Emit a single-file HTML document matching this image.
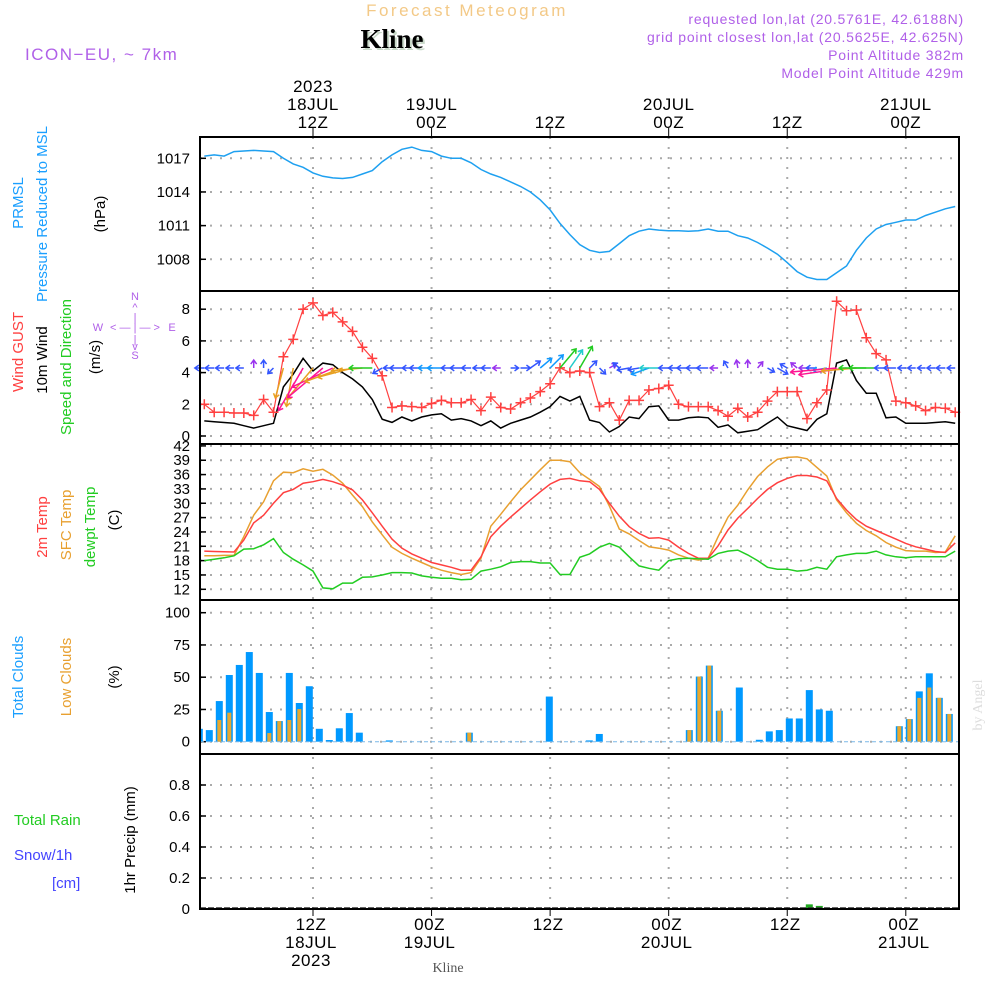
<!DOCTYPE html>
<html><head><meta charset="utf-8">
<style>
body{margin:0;background:#fff;}
svg{display:block;font-family:"Liberation Sans",sans-serif;}
</style></head>
<body>
<svg id="chart" width="1000" height="1000" viewBox="0 0 1000 1000" xmlns="http://www.w3.org/2000/svg">
<defs><clipPath id="cloudClip"><rect x="201" y="600" width="757" height="154"/></clipPath></defs>
<rect x="0" y="0" width="1000" height="1000" fill="#fff"/>
<text x="467" y="16" text-anchor="middle" font-size="17" letter-spacing="2.5" fill="#f3c987">Forecast Meteogram</text>
<text x="394" y="50" text-anchor="middle" font-size="27" font-weight="bold" font-family="Liberation Serif,serif" fill="#c8d8c8">Kline</text>
<text x="392" y="48" text-anchor="middle" font-size="27" font-weight="bold" font-family="Liberation Serif,serif" fill="#000">Kline</text>
<text x="25" y="60" font-size="17" letter-spacing="1.5" fill="#b060e8">ICON−EU, ~ 7km</text>
<g font-size="14" fill="#b060e8" text-anchor="end" letter-spacing="0.8">
<text x="964" y="24">requested lon,lat (20.5761E, 42.6188N)</text>
<text x="964" y="42">grid point closest lon,lat (20.5625E, 42.625N)</text>
<text x="964" y="60">Point Altitude 382m</text>
<text x="964" y="78">Model Point Altitude 429m</text>
</g>
<g font-size="15">
<text transform="translate(23,203) rotate(-90)" text-anchor="middle" fill="#1a9fff">PRMSL</text>
<text transform="translate(47,214) rotate(-90)" text-anchor="middle" fill="#1a9fff">Pressure Reduced to MSL</text>
<text transform="translate(105,214) rotate(-90)" text-anchor="middle" fill="#000">(hPa)</text>
<text transform="translate(23,352) rotate(-90)" text-anchor="middle" fill="#ff4040">Wind GUST</text>
<text transform="translate(47,360) rotate(-90)" text-anchor="middle" fill="#000">10m Wind</text>
<text transform="translate(71,367) rotate(-90)" text-anchor="middle" fill="#22cc22">Speed and Direction</text>
<text transform="translate(100,357) rotate(-90)" text-anchor="middle" fill="#000">(m/s)</text>
<text transform="translate(47,527) rotate(-90)" text-anchor="middle" fill="#ff4040">2m Temp</text>
<text transform="translate(71,525) rotate(-90)" text-anchor="middle" fill="#e8a030">SFC Temp</text>
<text transform="translate(95,527) rotate(-90)" text-anchor="middle" fill="#22cc22">dewpt Temp</text>
<text transform="translate(119,520) rotate(-90)" text-anchor="middle" fill="#000">(C)</text>
<text transform="translate(23,677) rotate(-90)" text-anchor="middle" fill="#1a9fff">Total Clouds</text>
<text transform="translate(71,677) rotate(-90)" text-anchor="middle" fill="#e8a030">Low Clouds</text>
<text transform="translate(119,677) rotate(-90)" text-anchor="middle" fill="#000">(%)</text>
<text x="14" y="825" fill="#22cc22">Total  Rain</text>
<text x="14" y="860" fill="#4444ff">Snow/1h</text>
<text x="52" y="888" fill="#4444ff">[cm]</text>
<text transform="translate(135,840) rotate(-90)" text-anchor="middle" fill="#000">1hr Precip (mm)</text>
</g>
<g font-size="11" fill="#b060e8" text-anchor="middle">
<text x="135" y="300">N</text><text x="135" y="311">^</text><text x="135" y="321">|</text>
<text x="98" y="331">W</text><text x="135" y="331">&lt; — | — &gt;</text><text x="172" y="331">E</text>
<text x="135" y="343">|</text><text x="135" y="350">v</text><text x="135" y="359">S</text>
</g>
<g id="plot"></g>
<text x="448" y="972" text-anchor="middle" font-size="14" font-family="Liberation Serif,serif" fill="#555">Kline</text>
<text transform="translate(982,705) rotate(-90)" text-anchor="middle" font-size="14" font-family="Liberation Serif,serif" fill="#ddd">by Angel</text>
</svg>
<script>
const hours = [];for(let h=1;h<=77;h++)hours.push(h);
const pressure=[1017.2,1017.3,1017.2,1017.6,1017.65,1017.7,1017.65,1017.6,1017.0,1016.5,1016.2,1015.7,1015.4,1015.25,1015.2,1015.3,1015.6,1015.9,1016.7,1017.3,1017.8,1018.0,1017.7,1017.6,1017.2,1017.0,1017.0,1016.6,1016.0,1015.6,1015.3,1014.9,1014.5,1014.0,1013.3,1012.4,1011.2,1010.2,1009.3,1008.8,1008.6,1008.7,1009.4,1010.1,1010.5,1010.7,1010.6,1010.55,1010.55,1010.5,1010.55,1010.7,1010.5,1010.5,1010.1,1009.9,1009.5,1009.0,1008.45,1007.7,1006.9,1006.4,1006.2,1006.2,1006.8,1007.4,1008.8,1009.9,1010.7,1011.1,1011.3,1011.5,1011.5,1011.9,1012.2,1012.5,1012.7];
const gust=[2.0,1.5,1.5,1.45,1.45,1.3,2.3,1.5,5.0,6.1,8.0,8.4,7.6,7.8,7.2,6.6,5.6,4.9,3.8,1.8,1.9,1.85,1.8,2.05,2.25,2.1,2.1,2.3,1.6,2.45,1.8,1.7,2.1,2.4,2.8,3.3,4.3,4.0,4.1,4.0,1.85,2.1,1.0,2.25,2.25,2.9,3.0,3.2,2.0,1.85,1.85,1.85,1.6,1.25,1.75,1.2,1.5,2.2,2.8,2.8,2.8,1.1,2.1,2.9,8.5,7.9,7.95,6.2,5.2,4.8,2.2,2.1,1.9,1.6,1.8,1.75,1.5];
const wind=[0.95,0.9,0.85,0.8,0.65,0.5,0.65,0.8,3.1,3.9,4.9,4.1,4.6,4.5,4.0,3.6,3.1,2.3,1.06,0.86,1.2,0.95,1.2,1.33,1.4,1.0,1.1,0.95,0.65,0.95,0.5,0.8,1.0,1.2,1.5,1.85,2.5,2.2,2.5,1.0,0.85,0.25,0.6,1.2,1.1,1.85,1.9,1.0,1.0,1.15,1.2,1.15,0.55,0.7,0.2,0.3,0.4,0.8,1.2,0.65,0.5,0.35,1.05,1.4,4.6,4.8,3.5,2.7,2.7,1.15,1.2,0.8,0.8,0.8,0.85,0.9,0.8];
const windDir=[180,180,180,180,180,270,270,135,105,100,120,130,140,155,160,165,175,180,150,180,180,180,180,180,180,180,180,180,180,180,180,0,0,-35,-40,-45,-50,-55,-60,-45,45,-30,-140,170,170,160,180,180,180,180,180,180,180,-120,-100,-90,-50,30,30,-150,-140,180,180,170,175,172,175,180,180,180,180,180,180,180,180,180,180];
const temp2m=[20.0,19.9,19.85,19.8,22.3,25.9,27.5,30.0,32.2,32.9,34.2,34.5,35.0,34.5,33.8,32.8,30.7,28.0,25.2,22.5,20.6,19.4,18.5,17.6,17.1,16.6,16.0,16.0,18.8,23.0,25.2,27.1,28.9,30.7,32.4,34.0,35.0,35.2,34.7,34.5,32.9,30.0,27.3,25.1,23.7,22.7,22.8,22.3,20.8,19.5,18.5,18.5,21.1,24.4,26.9,28.9,31.0,32.9,34.3,35.2,35.8,35.8,35.5,34.7,31.0,28.6,26.6,25.2,24.3,23.4,22.5,21.6,20.9,20.4,19.9,19.7,21.7];
const tempSfc=[19.0,19.0,19.1,19.1,23.0,27.5,30.3,34.7,36.5,36.4,37.2,36.7,37.1,35.9,34.2,31.7,29.3,26.1,23.4,20.8,19.5,18.5,17.6,16.7,16.0,15.5,15.1,15.5,18.5,25.2,27.7,30.3,32.8,34.9,37.0,39.0,39.0,38.7,36.4,35.0,33.5,29.4,24.6,23.6,22.2,20.9,20.6,20.2,19.2,18.5,18.1,18.5,23.0,27.1,29.6,32.8,35.6,37.6,39.2,39.6,39.7,39.3,37.5,35.7,30.7,28.0,25.8,24.3,23.2,21.8,20.8,20.1,20.0,20.0,19.7,19.8,23.2];
const dewpt=[18.0,18.3,18.6,19.0,20.4,20.5,21.3,22.6,19.7,18.3,17.1,15.8,12.3,12.1,13.3,13.3,14.5,14.6,15.0,15.5,15.5,15.4,14.8,14.5,14.3,14.3,14.0,14.1,15.8,16.2,16.7,17.6,17.8,17.8,17.5,17.5,15.1,15.1,18.7,19.4,20.8,21.6,20.8,18.8,16.9,16.4,16.0,18.0,18.4,18.5,18.4,18.3,19.5,20.0,20.2,19.2,18.0,16.6,16.2,16.2,15.8,16.0,16.6,16.2,18.8,19.2,19.5,19.5,20.0,19.2,18.8,18.6,18.8,18.8,18.8,18.8,20.0];
const totalClouds=[10,9,31.5,51.7,59.5,69.5,53.3,23,16,53.3,30,43,10,1.3,10.4,22.2,7,0,0,1,0,0,0,0,0,0,0,7,0,0,0,0,0,0,0,35,0,0,0,1,6,0,0,0,0,0,0,0,0,9,50.5,59,24,0,42,0,1.5,8,9,18,18,40,25,24,0,0,0,0,0,0,12,17.5,39,53,34,21.5];
const lowClouds=[0,0,16.8,22.5,0,0,0,6.7,16,16.8,25.3,0,0,0,0,0,0,0,0,0,0,0,0,0,0,0,0,7,0,0,0,0,0,0,0,0,0,0,0,0,0,0,0,0,0,0,0,0,0,9,50.5,59,24,0,0,0,0,0,0,0,0,0,0,0,0,0,0,0,0,0,12,17.5,34,42,34,21.5];
const precipHours=[62,63];
const precipVals=[0.03,0.02];
const pressTicks=[1008,1011,1014,1017];
const windTicks=[0,2,4,6,8];
const tempTicks=[12,15,18,21,24,27,30,33,36,39,42];
const cloudTicks=[0,25,50,75,100];
const precipTicks=[0,0.2,0.4,0.6,0.8];
const timeTickHours=[12,24,36,48,60,72];
const topLabels=[["2023","18JUL","12Z"],["","19JUL","00Z"],["","","12Z"],["","20JUL","00Z"],["","","12Z"],["","21JUL","00Z"]];
const bottomLabels=[["12Z","18JUL","2023"],["00Z","19JUL",""],["12Z","",""],["00Z","20JUL",""],["12Z","",""],["00Z","21JUL",""]];

const NS="http://www.w3.org/2000/svg";
const plot=document.getElementById('plot');
const L=200,R=959;
const P1={t:137,b:291},P2={t:291,b:444},P3={t:444,b:600},P4={t:600,b:754},P5={t:754,b:909};
function xH(h){return 313+(h-12)*9.88;}
function xBar(i){return 199.3+(i-1)*10;}
function yP(v){return 158.3-(v-1017)*11.22;}
function yW(v){return 436-v*15.85;}
function yT(v){return 589.3-(v-12)*4.78;}
function yC(v){return 741.7-v*1.29;}
function yR(v){return 909-v*155;}
function mk(tag,attrs,parent){const e=document.createElementNS(NS,tag);for(const k in attrs)e.setAttribute(k,attrs[k]);(parent||plot).appendChild(e);return e;}

function hAxis(ticks,fy,name,fmt){
  ticks.forEach(t=>{
    const y=fy(t);
    const g=mk('line',{x1:L,x2:R,y1:y,y2:y,stroke:'#aaa','stroke-width':2,'stroke-dasharray':'2,8'});
    
    
    const tk=mk('line',{x1:L,x2:L+6,y1:y,y2:y,stroke:'#000','stroke-width':1.5});
    
    
    const tx=mk('text',{x:L-10,y:y+5,'text-anchor':'end','font-size':15,fill:'#000'});
    tx.textContent=fmt?fmt(t):t;
    
    
  });
}
hAxis(pressTicks,yP,'pressure-axis');
hAxis(windTicks,yW,'wind-axis');
hAxis(tempTicks,yT,'temp-axis');
hAxis(cloudTicks,yC,'cloud-axis');
hAxis(precipTicks,yR,'precip-axis',t=>t===0?'0':t.toFixed(1));
timeTickHours.forEach((h,k)=>{
  const x=xH(h);
  const g=mk('line',{x1:x,x2:x,y1:P1.t,y2:P5.b,stroke:'#aaa','stroke-width':2,'stroke-dasharray':'2,8'});
  
  
  mk('line',{x1:x,x2:x,y1:128,y2:P1.t,stroke:'#000','stroke-width':1});
  mk('line',{x1:x,x2:x,y1:P5.b,y2:P5.b+7,stroke:'#000','stroke-width':1});
  topLabels[k].forEach((s,j)=>{ if(!s)return;
    const t=mk('text',{x:x,y:92+j*18,'text-anchor':'middle','font-size':17,fill:'#000','letter-spacing':0.5});t.textContent=s;
    
    });
  bottomLabels[k].forEach((s,j)=>{ if(!s)return;
    const t=mk('text',{x:x-2,y:930+j*18,'text-anchor':'middle','font-size':17,fill:'#000','letter-spacing':0.5});t.textContent=s;
    
    });
});
function line(arr,fx,fy,color,name,w){
  const d=arr.map((v,i)=>(i?'L':'M')+fx(hours[i]).toFixed(1)+','+fy(v).toFixed(1)).join('');
  const p=mk('path',{d:d,fill:'none',stroke:color,'stroke-width':w||1.5});
  
  
}
line(pressure,xH,yP,'#1ea0f0','pressure-line');
line(wind,xH,yW,'#000','wind-speed-line');
line(gust,xH,yW,'#ff4040','gust-line',1.2);
gust.forEach((v,i)=>{
  const x=xH(hours[i]),y=yW(v);
  const m=mk('path',{d:`M${x-5},${y}H${x+5}M${x},${y-5}V${y+5}`,stroke:'#ff4040','stroke-width':1.5});
  
  
});
function arrowColor(s){return s<0.6?'#9933ee':s<1.3?'#3355ff':s<1.9?'#1199ff':s<2.3?'#22cccc':s<3?'#22cc22':s<4.3?'#e8a020':'#ff1493';}
wind.forEach((s,i)=>{
  const x=xH(hours[i]),y=368;
  const len=Math.max(8,s*10),a=windDir[i]*Math.PI/180;
  const x2=x+Math.cos(a)*len,y2=y+Math.sin(a)*len;
  const hl=5,a1=a+Math.PI*0.8,a2=a-Math.PI*0.8;
  const d=`M${x},${y}L${x2},${y2}M${x2+Math.cos(a1)*hl},${y2+Math.sin(a1)*hl}L${x2},${y2}L${x2+Math.cos(a2)*hl},${y2+Math.sin(a2)*hl}`;
  const p=mk('path',{d:d,fill:'none',stroke:arrowColor(s),'stroke-width':1.5});
  
  
});
line(tempSfc,xH,yT,'#e8a030','sfc-temp-line');
line(temp2m,xH,yT,'#ff4040','temp-2m-line');
line(dewpt,xH,yT,'#22cc22','dewpt-line');
const cg=mk('g',{'clip-path':'url(#cloudClip)'});


totalClouds.forEach((v,i)=>{
  const x=xBar(i+1);
  if(v>0){
    const b=mk('rect',{x:x-3.5,y:yC(v),width:7,height:yC(0)-yC(v),fill:'#0099ff'},cg);
    
    
  }
  const lv=lowClouds[i];
  if(lv>0){
    const b=mk('rect',{x:x-2,y:yC(lv),width:4,height:yC(0)-yC(lv),fill:'#e8a830'},cg);
    
    
  }
});
mk('line',{x1:L,x2:R,y1:yC(0),y2:yC(0),stroke:'#7ab8e8','stroke-width':1,'stroke-dasharray':'4,3'});
precipVals.forEach((v,i)=>{
  const x=xBar(precipHours[i]);
  const b=mk('rect',{x:x-3.5,y:yR(v),width:7,height:yR(0)-yR(v),fill:'#22aa22'});
  
  
});
mk('line',{x1:L,x2:R,y1:908,y2:908,stroke:'#333','stroke-width':1.5,'stroke-dasharray':'6,2'});
[P1,P2,P3,P4,P5].forEach((p,i)=>{
  const r=mk('rect',{x:L,y:p.t,width:R-L,height:p.b-p.t,fill:'none',stroke:'#000','stroke-width':2});
  
  
});
</script>
</body></html>
